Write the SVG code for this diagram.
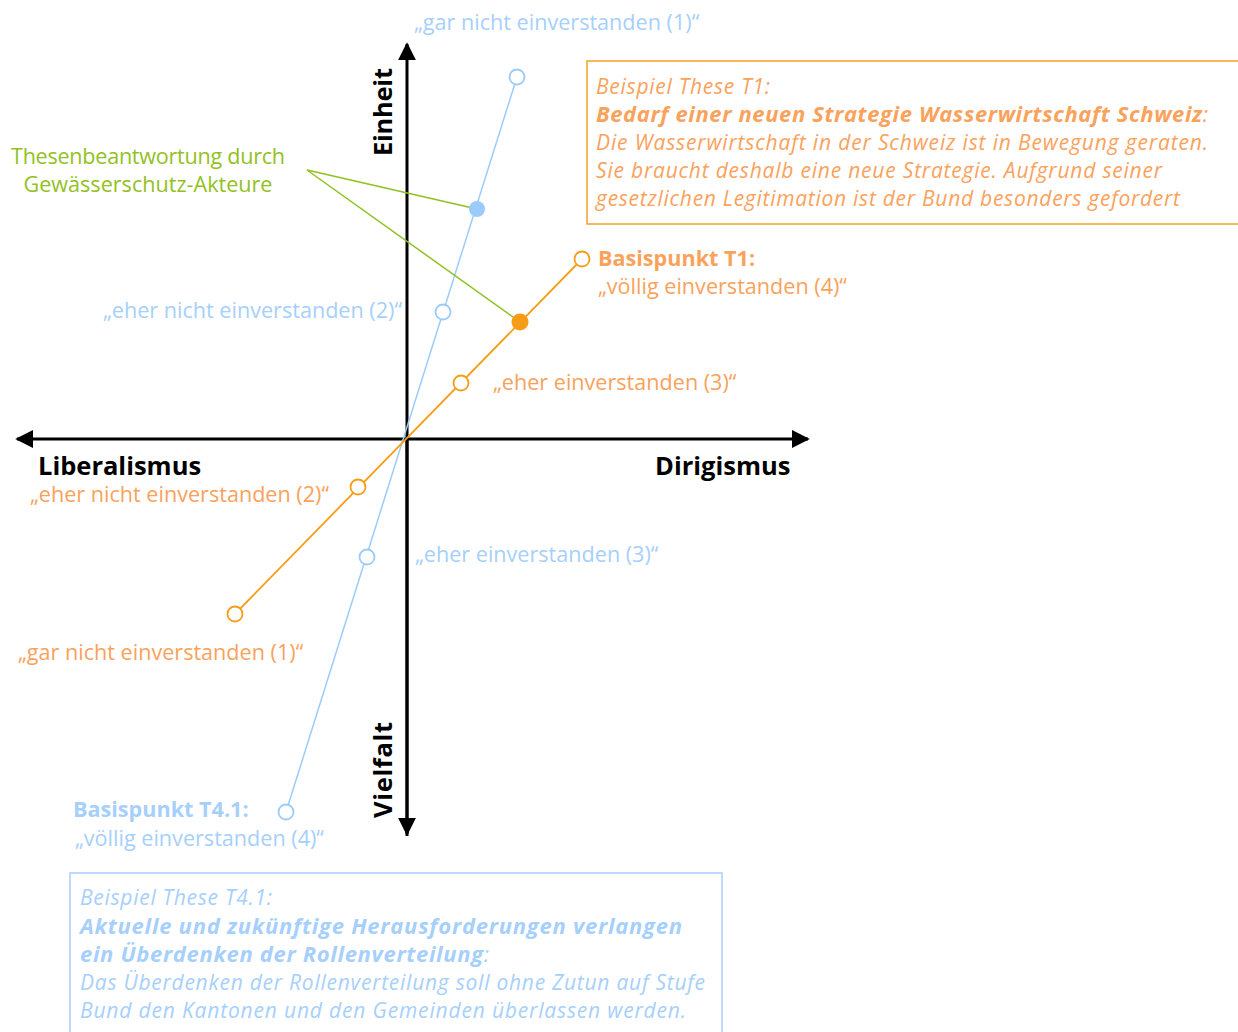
<svg xmlns="http://www.w3.org/2000/svg" width="1238" height="1032" viewBox="0 0 1238 1032">
<style>
text{font-family:"Open Sans","Noto Sans","DejaVu Sans",sans-serif;font-size:21.6px}
.b{fill:#a6d0fb}
.o{fill:#f9a25c}
.g{fill:#93c11e}
.k{fill:#000;font-weight:bold;font-size:25.5px}
.bold{font-weight:bold}
.it{font-style:italic;font-size:21px}
.bi{font-size:22px}
.ax{stroke:#000;stroke-width:3;fill:none}
.bl{stroke:#9ccbfa;stroke-width:1.5;fill:none}
.ol{stroke:#f79c16;stroke-width:1.8;fill:none}
.gl{stroke:#8dc21f;stroke-width:1.5;fill:none}
.bc{stroke:#9ccbfa;stroke-width:1.8;fill:#fff}
.oc{stroke:#f79c16;stroke-width:1.8;fill:#fff}
</style>
<defs>
<marker id="ah" viewBox="0 0 10 10" refX="9" refY="5" markerWidth="6" markerHeight="6" orient="auto" markerUnits="strokeWidth"><path d="M0,0 L10,5 L0,10 z" fill="#000"/></marker>
</defs>
<rect width="1238" height="1032" fill="#fff"/>
<g id="connectors">
<line class="ax" x1="407" y1="836" x2="407" y2="44" marker-end="url(#ah)"/>
<line class="ax" x1="407" y1="439" x2="407" y2="834" marker-end="url(#ah)"/>
<line class="ax" x1="405" y1="439" x2="808" y2="439" marker-end="url(#ah)"/>
<line class="ax" x1="405" y1="439" x2="17" y2="439" marker-end="url(#ah)"/>
<line class="bl" x1="517" y1="77" x2="286" y2="812"/>
<line class="ol" x1="582" y1="259" x2="235" y2="614"/>
<line class="gl" x1="307" y1="170" x2="477" y2="209"/>
<line class="gl" x1="307" y1="170" x2="520" y2="322"/>
</g>
<g id="blue-points">
<circle class="bc" cx="517" cy="77" r="7.5"/>
<circle cx="477" cy="209" r="8" fill="#9ccbfa"/>
<circle class="bc" cx="443" cy="312" r="7.5"/>
<circle class="bc" cx="367" cy="557" r="7.5"/>
<circle class="bc" cx="286" cy="812" r="7.5"/>
</g>
<g id="orange-points">
<circle class="oc" cx="582" cy="259" r="7.5"/>
<circle cx="520" cy="322" r="8.5" fill="#f79c16"/>
<circle class="oc" cx="461" cy="383" r="7.5"/>
<circle class="oc" cx="358" cy="487" r="7.5"/>
<circle class="oc" cx="235" cy="614" r="7.5"/>
</g>
<g id="axis-labels">
<text class="k" transform="translate(392,156) rotate(-90)" textLength="88">Einheit</text>
<text class="k" transform="translate(392,818) rotate(-90)" textLength="96">Vielfalt</text>
<text class="k" x="38" y="475">Liberalismus</text>
<text class="k" x="655" y="475">Dirigismus</text>
</g>
<g id="labels">
<text class="b" x="414" y="30">„gar nicht einverstanden (1)“</text>
<text class="b" x="103" y="318">„eher nicht einverstanden (2)“</text>
<text class="b" x="415" y="562">„eher einverstanden (3)“</text>
<text class="b bold" x="73" y="817">Basispunkt T4.1:</text>
<text class="b" x="75" y="846">„völlig einverstanden (4)“</text>
<text class="o bold" x="598" y="266">Basispunkt T1:</text>
<text class="o" x="598" y="294">„völlig einverstanden (4)“</text>
<text class="o" x="493" y="390">„eher einverstanden (3)“</text>
<text class="o" x="30" y="502">„eher nicht einverstanden (2)“</text>
<text class="o" x="18" y="660">„gar nicht einverstanden (1)“</text>
<text class="g" x="148" y="164" text-anchor="middle" textLength="274">Thesenbeantwortung durch</text>
<text class="g" x="148" y="192" text-anchor="middle">Gewässerschutz-Akteure</text>
</g>
<g id="box-t1">
<rect x="587" y="61" width="652" height="163" fill="none" stroke="#f8a024" stroke-width="1.5"/>
<text class="o it" x="596" y="94" textLength="174">Beispiel These T1:</text>
<text class="o it" x="596" y="122" textLength="612"><tspan class="bold bi">Bedarf einer neuen Strategie Wasserwirtschaft Schweiz</tspan>:</text>
<text class="o it" x="596" y="150" textLength="612">Die Wasserwirtschaft in der Schweiz ist in Bewegung geraten.</text>
<text class="o it" x="596" y="178" textLength="566">Sie braucht deshalb eine neue Strategie. Aufgrund seiner</text>
<text class="o it" x="596" y="206" textLength="584">gesetzlichen Legitimation ist der Bund besonders gefordert</text>
</g>
<g id="box-t4">
<rect x="70" y="873" width="652" height="170" fill="none" stroke="#a6d0fb" stroke-width="1.5"/>
<text class="b it" x="80" y="905" textLength="192">Beispiel These T4.1:</text>
<text class="b it bold bi" x="80" y="934" textLength="602">Aktuelle und zukünftige Herausforderungen verlangen</text>
<text class="b it" x="80" y="962" textLength="409"><tspan class="bold bi">ein Überdenken der Rollenverteilung</tspan>:</text>
<text class="b it" x="80" y="990" textLength="625">Das Überdenken der Rollenverteilung soll ohne Zutun auf Stufe</text>
<text class="b it" x="80" y="1018" textLength="606">Bund den Kantonen und den Gemeinden überlassen werden.</text>
</g>
</svg>
